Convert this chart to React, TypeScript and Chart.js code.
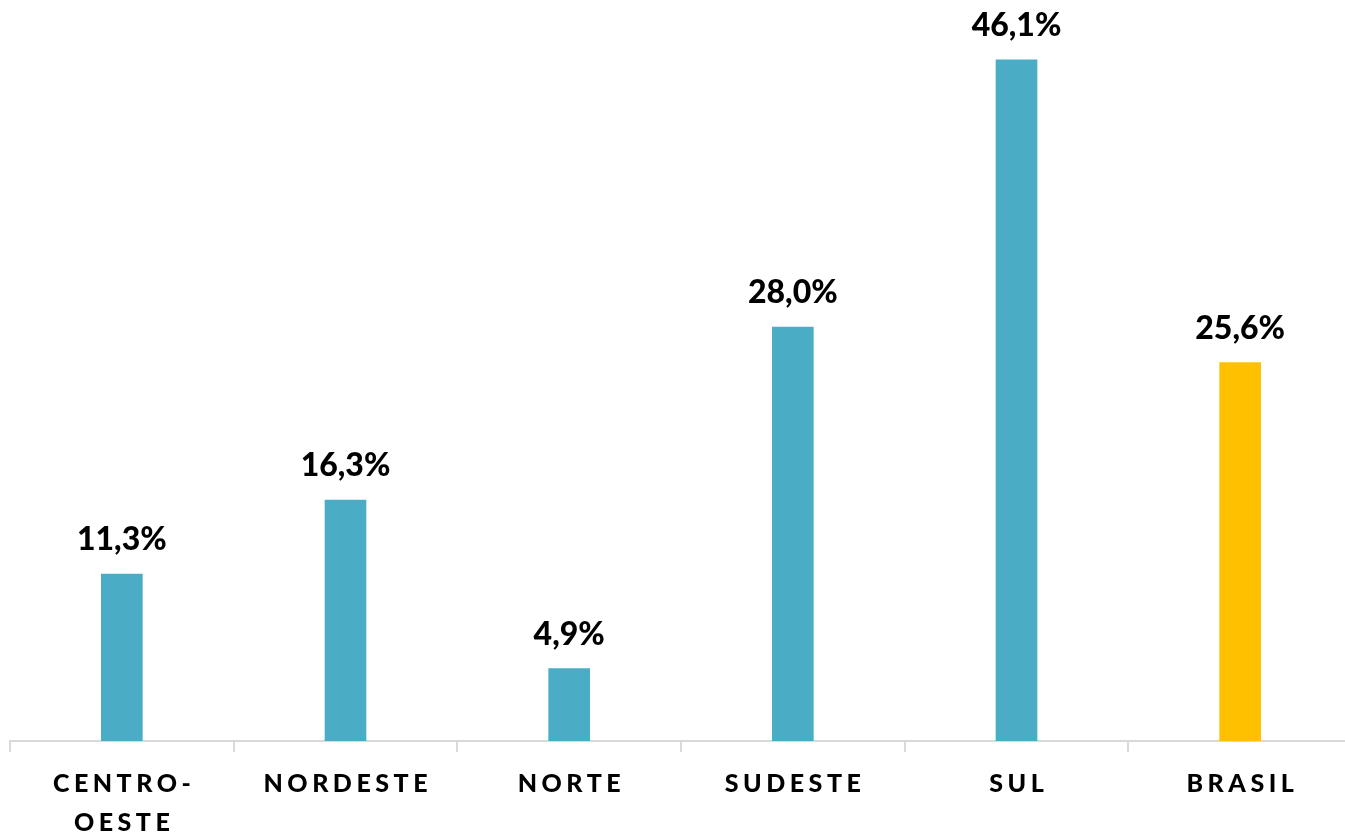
import React, { useEffect, useRef } from 'react';
import { Chart, registerables } from 'chart.js';

Chart.register(...registerables);

const categories: string[][] = [['CENTRO-', 'OESTE'], ['NORDESTE'], ['NORTE'], ['SUDESTE'], ['SUL'], ['BRASIL']];
const values: number[] = [11.3, 16.3, 4.9, 28.0, 46.1, 25.6];
const barColors: string[] = ['#4BACC6', '#4BACC6', '#4BACC6', '#4BACC6', '#4BACC6', '#FFC000'];
const yMax = 50.14;

const fmt = (v: number) => v.toFixed(1).replace('.', ',') + '%';

const labelPlugin = {
  id: 'customLabels',
  afterDatasetsDraw(chart: any) {
    const ctx = chart.ctx;
    const meta = chart.getDatasetMeta(0);
    ctx.save();
    ctx.font = '900 32px Lato';
    ctx.fillStyle = '#000000';
    ctx.textAlign = 'center';
    ctx.textBaseline = 'alphabetic';
    meta.data.forEach((bar: any, i: number) => {
      ctx.fillText(fmt(values[i]), bar.x, bar.y - 24);
    });
    ctx.restore();
  },
  afterDraw(chart: any) {
    const ctx = chart.ctx;
    const xs = chart.scales.x;
    const spacing = 4.5;
    ctx.save();
    ctx.font = '900 25px Lato';
    (ctx as any).letterSpacing = spacing + 'px';
    ctx.fillStyle = '#000000';
    ctx.textAlign = 'center';
    ctx.textBaseline = 'alphabetic';
    categories.forEach((lines, i) => {
      const x = xs.getPixelForValue(i) + spacing / 2;
      lines.forEach((line, j) => {
        ctx.fillText(line, x, 792 + j * 39);
      });
    });
    ctx.restore();
  },
};

export default function App() {
  const ref = useRef<HTMLCanvasElement>(null);
  useEffect(() => {
    if (!ref.current) return;
    const chart = new Chart(ref.current, {
      type: 'bar',
      data: {
        labels: categories.map((c) => c.join(' ')),
        datasets: [
          {
            data: values,
            backgroundColor: barColors,
            borderWidth: 0,
            barThickness: 41,
          },
        ],
      },
      options: {
        responsive: false,
        maintainAspectRatio: false,
        devicePixelRatio: 1,
        animation: false,
        layout: { padding: { left: 10, top: 0, right: 0, bottom: 0 } },
        plugins: { legend: { display: false }, tooltip: { enabled: false } },
        scales: {
          x: {
            type: 'category',
            offset: true,
            grid: {
              offset: true,
              drawOnChartArea: false,
              drawTicks: true,
              tickLength: 11,
              color: '#d9d9d9',
              lineWidth: 2,
            },
            border: { display: true, color: '#d9d9d9', width: 2 },
            ticks: { display: false },
            afterFit: (s: any) => {
              s.height = 94;
            },
          },
          y: { display: false, min: 0, max: yMax },
        },
      },
      plugins: [labelPlugin],
    });
    return () => chart.destroy();
  }, []);
  return (
    <div
      style={{
        position: 'fixed',
        left: 0,
        top: 0,
        width: 1345,
        height: 835,
        overflow: 'hidden',
        background: '#ffffff',
      }}
    >
      <canvas ref={ref} width={1352} height={835} style={{ display: 'block', width: 1352, height: 835 }} />
    </div>
  );
}
